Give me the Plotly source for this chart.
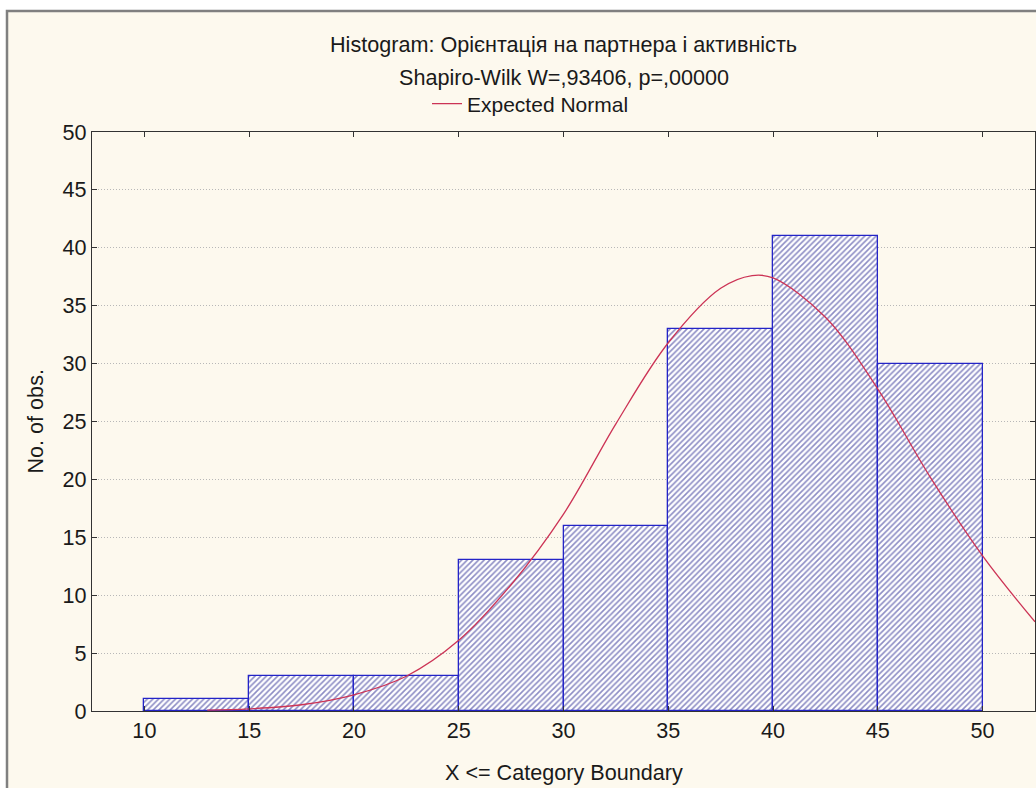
import plotly.graph_objects as go

# Histogram data
bin_left = [10, 15, 20, 25, 30, 35, 40, 45]
bin_width = 5
counts = [1, 3, 3, 13, 16, 33, 41, 30]

# Expected normal curve
curve_x = [13, 15, 17.5, 20, 22.5, 25, 27.5, 30, 32.5, 35, 37.5, 39, 40, 42.5, 45, 47.5, 50, 52.5]
curve_y = [0.08, 0.19, 0.54, 1.4, 3.0, 6.1, 10.9, 17.0, 24.8, 31.8, 36.5, 37.6, 37.4, 34.0, 27.8, 20.2, 13.4, 7.7]

x_ticks = [10, 15, 20, 25, 30, 35, 40, 45, 50]
y_ticks = [0, 5, 10, 15, 20, 25, 30, 35, 40, 45, 50]

title1 = "Histogram: Орієнтація на партнера і активність"
title2 = "Shapiro-Wilk W=,93406, p=,00000"

FONT = "Liberation Sans, Arial, sans-serif"
FS = 21.6

fig = go.Figure()
fig.add_trace(go.Bar(
    x=[b + bin_width / 2 for b in bin_left],
    y=counts,
    width=bin_width,
    showlegend=False,
    marker=dict(
        color="white",
        line=dict(color="#2424c8", width=1.3),
        pattern=dict(shape="/", fgcolor="#1c1c8a", bgcolor="white", size=4, solidity=0.4),
    ),
    hoverinfo="x+y",
))
fig.add_trace(go.Scatter(
    x=curve_x, y=curve_y, mode="lines", name="Expected Normal",
    line=dict(color="#cc3355", width=1.3, shape="spline", smoothing=1.0),
))

W, H = 1036, 788
L, R, T, B = 92, 1, 132, 77
pw = W - L - R
ph = H - T - B

def px_x(p):
    return (p - L) / pw

def px_y(p):
    return (H - B - p) / ph

fig.update_layout(
    width=W, height=H,
    margin=dict(l=L, r=R, t=T, b=B),
    paper_bgcolor="white",
    plot_bgcolor="white",
    font=dict(family=FONT, size=FS, color="#1a1a1a"),
    bargap=0,
    showlegend=True,
    legend=dict(
        x=px_x(427), xanchor="left", xref="paper",
        y=px_y(104), yanchor="middle", yref="paper",
        bgcolor="rgba(0,0,0,0)", font=dict(size=21, family=FONT),
        itemwidth=30,
    ),
    xaxis=dict(
        range=[7.5, 52.5], tickvals=x_ticks, ticktext=[str(v) for v in x_ticks],
        showgrid=False, zeroline=False,
        showline=True, linecolor="#333333", linewidth=1.2,
        ticks="inside", ticklen=5, tickcolor="#333333", mirror="ticks",
        tickfont=dict(size=FS, family=FONT),
    ),
    yaxis=dict(
        range=[0, 50], tickvals=y_ticks, ticktext=[str(v) for v in y_ticks],
        showgrid=True, gridcolor="#b8b8b8", griddash="1px,2px", gridwidth=1,
        zeroline=False,
        showline=True, linecolor="#333333", linewidth=1.2,
        ticks="inside", ticklen=5, tickcolor="#333333", mirror="ticks",
        tickfont=dict(size=FS, family=FONT),
    ),
    shapes=[
        dict(type="rect", xref="paper", yref="paper",
             x0=px_x(7), x1=1.2, y0=-0.3, y1=px_y(11),
             fillcolor="#fdf9ee", line=dict(color="#808080", width=2.5),
             layer="below"),
    ],
    annotations=[
        dict(text=title1, x=0.5, y=px_y(44), xref="paper", yref="paper",
             showarrow=False, xanchor="center", yanchor="middle", font=dict(size=FS, family=FONT)),
        dict(text=title2, x=0.5, y=px_y(78), xref="paper", yref="paper",
             showarrow=False, xanchor="center", yanchor="middle", font=dict(size=FS, family=FONT)),
        dict(text="X <= Category Boundary", x=0.5, y=px_y(772), xref="paper", yref="paper",
             showarrow=False, xanchor="center", yanchor="middle", font=dict(size=FS, family=FONT)),
        dict(text="No. of obs.", x=px_x(35), y=0.5, xref="paper", yref="paper",
             showarrow=False, xanchor="center", yanchor="middle", textangle=-90,
             font=dict(size=FS, family=FONT)),
    ],
)

fig.write_html("out.html", config={"displayModeBar": False},
               post_script="document.body.style.margin='0';document.body.style.overflow='hidden';")
